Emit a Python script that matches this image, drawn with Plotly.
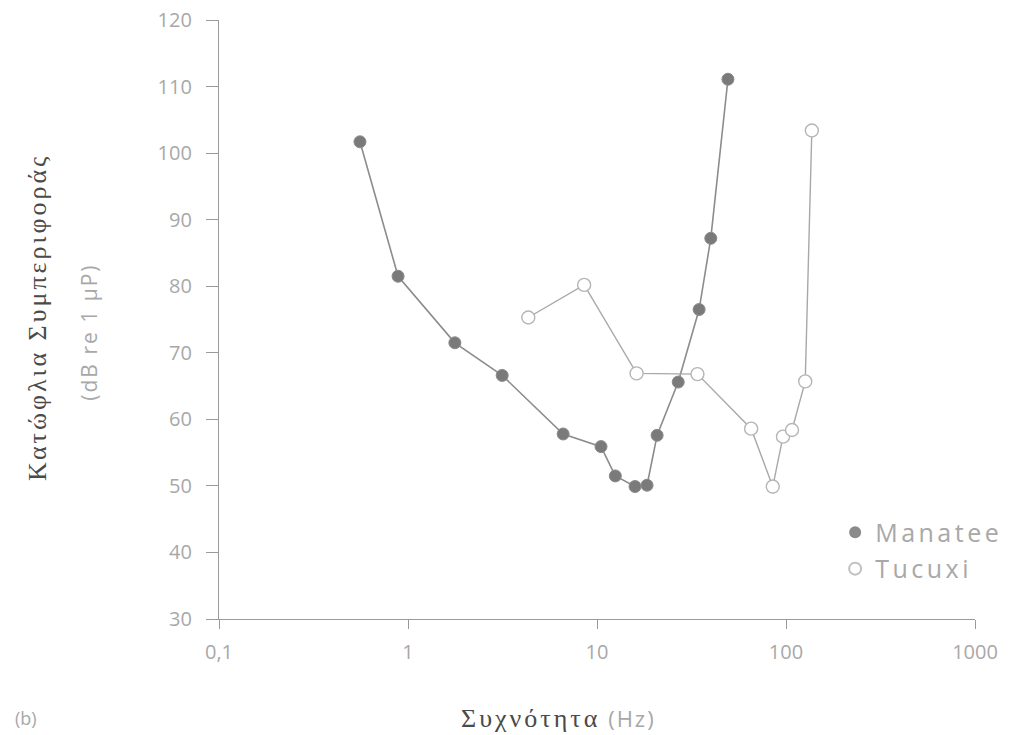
import plotly.graph_objects as go

# ---- data ----
manatee_freq = [0.557, 0.886, 1.77, 3.15, 6.62, 10.5, 12.5, 15.9, 18.4, 20.8, 26.9, 34.7, 40.0, 49.3]
manatee_db = [101.7, 81.5, 71.5, 66.6, 57.8, 55.9, 51.5, 49.9, 50.1, 57.6, 65.6, 76.5, 87.2, 111.1]

tucuxi_freq = [4.33, 8.55, 16.2, 34.0, 65.4, 85.1, 96.4, 107.6, 126.4, 137.0]
tucuxi_db = [75.3, 80.2, 66.9, 66.8, 58.6, 49.9, 57.4, 58.4, 65.7, 103.4]

x_tick_vals = [0.1, 1, 10, 100, 1000]
x_tick_text = ["0,1", "1", "10", "100", "1000"]
y_tick_vals = [30, 40, 50, 60, 70, 80, 90, 100, 110, 120]

series_names = ["Manatee", "Tucuxi"]

LABEL_GREY = "#a8a8a8"
AXIS_GREY = "#9a9a9a"
DARK = "#4a4a4a"

fig = go.Figure()

fig.add_trace(go.Scatter(
    x=manatee_freq, y=manatee_db, mode="lines+markers", showlegend=False,
    line=dict(color="#8c8c8c", width=1.6),
    marker=dict(size=12, color="#7a7a7a", line=dict(color="#8a8a8a", width=1)),
))
fig.add_trace(go.Scatter(
    x=tucuxi_freq, y=tucuxi_db, mode="lines+markers", showlegend=False,
    line=dict(color="#a8a8a8", width=1.4),
    marker=dict(size=13, color="white", line=dict(color="#b5b5b5", width=1.4)),
))

# legend-only entries (marker without line, as in the reference)
fig.add_trace(go.Scatter(
    x=[None], y=[None], mode="markers", legendgroup="a",
    name="<span style='letter-spacing:3.5px'>" + series_names[0] + "</span>",
    marker=dict(size=9, color="#8a8a8a"),
))
fig.add_trace(go.Scatter(
    x=[None], y=[None], mode="markers", legendgroup="b",
    name="<span style='letter-spacing:3.5px'>" + series_names[1] + "</span>",
    marker=dict(size=9, color="white", line=dict(color="#c0c0c0", width=1.2)),
))

fig.update_layout(
    width=1020, height=735,
    margin=dict(l=219, r=41, t=20, b=116),
    paper_bgcolor="white", plot_bgcolor="white",
    font=dict(family="Open Sans", color=LABEL_GREY, size=20),
    legend=dict(
        x=0.815, y=0.183, xanchor="left", yanchor="top",
        font=dict(family="Open Sans", size=25, color=LABEL_GREY),
        bgcolor="rgba(0,0,0,0)", traceorder="grouped", tracegroupgap=1,
        itemsizing="constant",
    ),
    xaxis=dict(
        type="log", range=[-1, 3], automargin=False,
        tickvals=x_tick_vals, ticktext=x_tick_text,
        showgrid=False, zeroline=False,
        showline=True, linecolor=AXIS_GREY, linewidth=1.2,
        ticks="outside", ticklen=9, tickcolor=AXIS_GREY, tickwidth=1.2,
        tickfont=dict(family="Open Sans", size=20, color=LABEL_GREY),
        ticklabelstandoff=6,
    ),
    yaxis=dict(
        range=[30, 120], tickvals=y_tick_vals, automargin=False,
        showgrid=False, zeroline=False,
        showline=True, linecolor=AXIS_GREY, linewidth=1.2,
        ticks="outside", ticklen=12, tickcolor=AXIS_GREY, tickwidth=1.2,
        tickfont=dict(family="Open Sans", size=20, color=LABEL_GREY),
        ticklabelstandoff=10,
    ),
    annotations=[
        dict(
            text="<span style='letter-spacing:3px'>Κατώφλια Συμπεριφοράς</span>",
            textangle=-90,
            xref="paper", yref="paper", x=-0.241, y=0.504,
            xanchor="center", yanchor="middle", showarrow=False,
            font=dict(family="Liberation Serif", size=26, color=DARK),
        ),
        dict(
            text="<span style='letter-spacing:2px'>(dB re 1 μP)</span>",
            textangle=-90,
            xref="paper", yref="paper", x=-0.1725, y=0.479,
            xanchor="center", yanchor="middle", showarrow=False,
            font=dict(family="Open Sans", size=21, color=LABEL_GREY),
        ),
        dict(
            text="<span style='font-family:Liberation Serif;color:#4a4a4a;letter-spacing:3px'>Συχνότητα</span>"
                 "<span style='font-family:Open Sans;color:#a8a8a8;font-size:22px;letter-spacing:2px'> (Hz)</span>",
            xref="paper", yref="paper", x=0.449, y=-0.165,
            xanchor="center", yanchor="middle", showarrow=False,
            font=dict(family="Liberation Serif", size=26, color=DARK),
        ),
        dict(
            text="(b)",
            xref="paper", yref="paper", x=-0.255, y=-0.165,
            xanchor="center", yanchor="middle", showarrow=False,
            font=dict(family="Open Sans", size=18, color=LABEL_GREY),
        ),
    ],
)

# remove the page's default 8px body margin and scrollbars so the figure fills the window exactly
fig.write_html(
    "out.html",
    config={"displayModeBar": False},
    post_script="document.body.style.margin='0';document.body.style.overflow='hidden';"
                "document.documentElement.style.overflow='hidden';",
)
